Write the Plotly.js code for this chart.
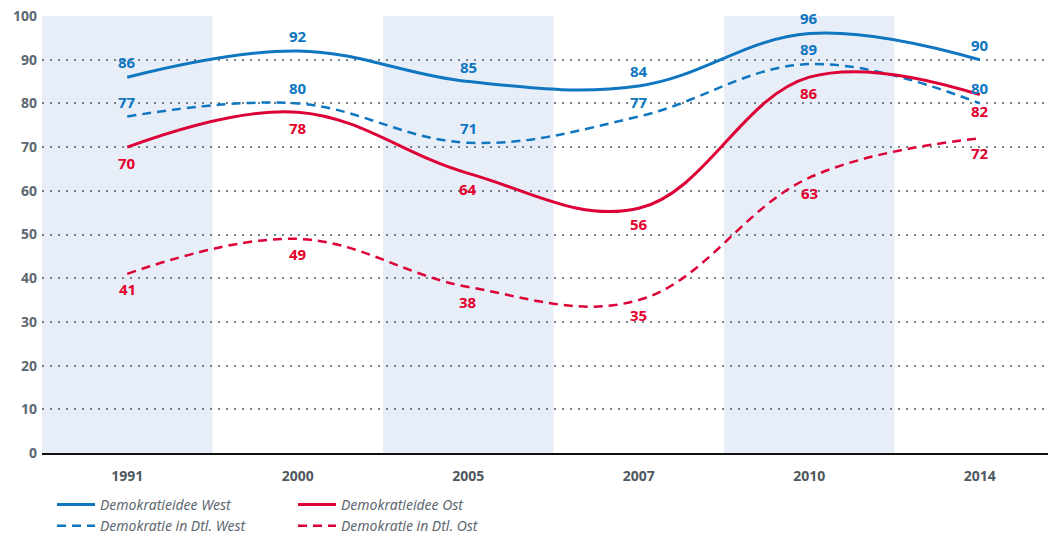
<!DOCTYPE html>
<html>
<head>
<meta charset="utf-8">
<script src="https://cdn.plot.ly/plotly-3.0.1.min.js"></script>
<style>html,body{margin:0;padding:0;background:#fff;}#chart{width:1049px;height:534px;}</style>
</head>
<body>
<div id="chart"></div>
<script>
const years = ['1991', '2000', '2005', '2007', '2010', '2014'];
const ideeWest = [86, 92, 85, 84, 96, 90];
const dtlWest = [77, 80, 71, 77, 89, 80];
const ideeOst = [70, 78, 64, 56, 86, 82];
const dtlOst = [41, 49, 38, 35, 63, 72];
const shadedYears = ['1991', '2005', '2010'];

const BLUE = '#0f76c0';
const RED = '#dc0036';
const RED_TXT = '#e3002d';
const GRAY = '#5d6871';
const FONT = 'Noto Sans, Open Sans, sans-serif';

const idx = years.map((_, i) => i);

const series = [
  {name: 'Demokratie in Dtl. Ost', y: dtlOst, color: RED, txt: RED_TXT, dash: '9px,6px', w: 2.5, legend: 'legend2', rank: 2, shift: -15},
  {name: 'Demokratie in Dtl. West', y: dtlWest, color: BLUE, txt: BLUE, dash: '9px,6px', w: 2.5, legend: 'legend', rank: 2, shift: 15},
  {name: 'Demokratieidee West', y: ideeWest, color: BLUE, txt: BLUE, dash: 'solid', w: 3, legend: 'legend', rank: 1, shift: 15},
  {name: 'Demokratieidee Ost', y: ideeOst, color: RED, txt: RED_TXT, dash: 'solid', w: 3, legend: 'legend2', rank: 1, shift: -16}
];

const data = series.map(s => ({
  type: 'scatter', mode: 'lines', x: idx, y: s.y, name: s.name,
  line: {color: s.color, width: s.w, dash: s.dash, shape: 'spline', smoothing: 1.1},
  legend: s.legend, legendrank: s.rank, hoverinfo: 'skip'
}));

const annotations = [];
series.forEach(s => {
  s.y.forEach((v, i) => {
    annotations.push({
      x: i, y: v, xref: 'x', yref: 'y', text: String(v), showarrow: false,
      yshift: s.shift, font: {family: FONT, size: 15, color: s.txt, weight: 'bold'}
    });
  });
});

const shapes = shadedYears.map(yr => {
  const i = years.indexOf(yr);
  return {type: 'rect', xref: 'x', yref: 'paper', x0: i - 0.5, x1: i + 0.5, y0: 0, y1: 1,
    fillcolor: '#e8eef8', line: {width: 0}, layer: 'below'};
});

const legendFont = {family: FONT, size: 14, color: GRAY, style: 'italic'};

const layout = {
  width: 1049, height: 534,
  margin: {l: 42, r: 1, t: 16, b: 81, autoexpand: false},
  paper_bgcolor: '#ffffff', plot_bgcolor: 'rgba(0,0,0,0)',
  font: {family: FONT, color: GRAY},
  xaxis: {
    range: [-0.5, 5.4], tickvals: idx, ticktext: years, showgrid: false, zeroline: false,
    showline: true, linecolor: '#111111', linewidth: 2, ticks: '',
    ticklabelstandoff: 9,
    tickfont: {family: FONT, size: 14, color: '#4f5960', weight: 'bold'}
  },
  yaxis: {
    range: [0, 100], dtick: 10, showgrid: true, gridcolor: '#76818a', gridwidth: 2,
    griddash: '2px,6px', zeroline: false, ticks: '', ticklabelstandoff: 4,
    tickfont: {family: FONT, size: 14, color: GRAY, weight: 'bold'}
  },
  shapes: shapes,
  annotations: annotations,
  showlegend: true,
  legend: {
    xref: 'container', yref: 'container', x: 52 / 1049, y: (534 - 489) / 534,
    xanchor: 'left', yanchor: 'top', orientation: 'v', tracegroupgap: 0,
    bgcolor: 'rgba(0,0,0,0)', traceorder: 'normal', itemwidth: 38,
    font: legendFont
  },
  legend2: {
    xref: 'container', yref: 'container', x: 293 / 1049, y: (534 - 489) / 534,
    xanchor: 'left', yanchor: 'top', orientation: 'v', tracegroupgap: 0,
    bgcolor: 'rgba(0,0,0,0)', traceorder: 'normal', itemwidth: 38,
    font: legendFont
  }
};

Plotly.newPlot('chart', data, layout, {displayModeBar: false, staticPlot: true});
</script>
</body>
</html>
